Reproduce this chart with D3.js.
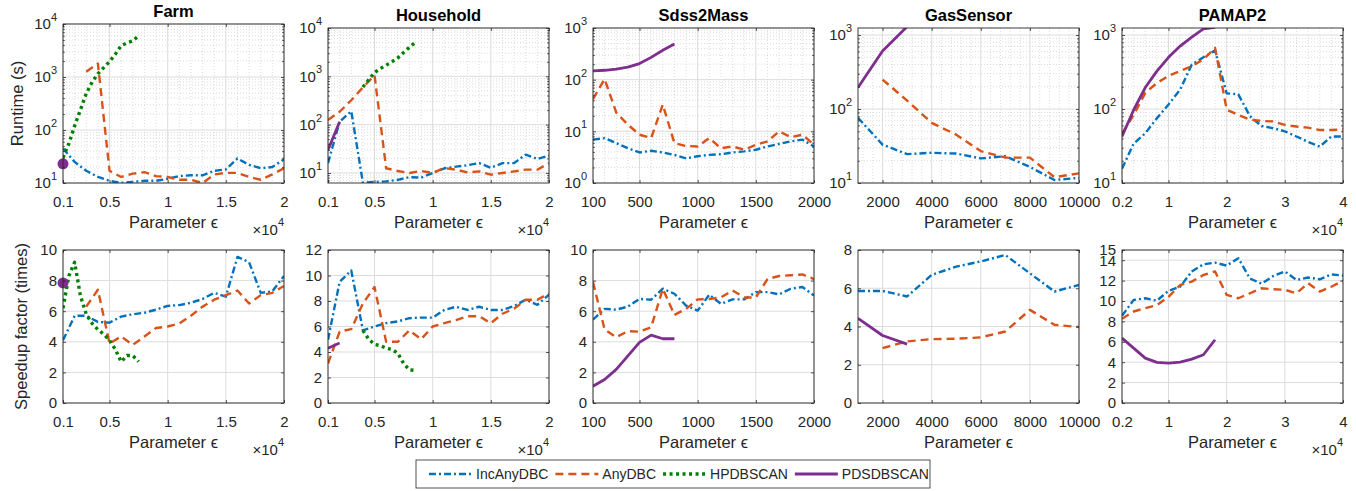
<!DOCTYPE html>
<html>
<head>
<meta charset="utf-8">
<script src="https://cdn.jsdelivr.net/npm/d3@7"></script>
<style>
  body { margin: 0; background: #fff; }
  svg text { font-family: "Liberation Sans", Arial, Helvetica, sans-serif; fill: #262626; }
</style>
</head>
<body>
<div id="chart"></div>
<script>

// ---- parameter values (x) ----
var eps_farm = [1000, 2000, 3000, 4000, 5000, 6000, 7000, 8000, 9000, 10000, 11000, 12000, 13000, 14000, 15000, 16000, 17000, 18000, 19000, 20000]
var eps_farm_any = [3000, 4000, 5000, 6000, 7000, 8000, 9000, 10000, 11000, 12000, 13000, 14000, 15000, 16000, 17000, 18000, 19000, 20000]
var eps_farm_hp = [1000, 1500, 2000, 2500, 3000, 3500, 4000, 4500, 5000, 5500, 6000, 6500, 7000, 7500]
var eps_farm_pd = [1000]
var eps_house = [1000, 2000, 3000, 4000, 5000, 6000, 7000, 8000, 9000, 10000, 11000, 12000, 13000, 14000, 15000, 16000, 17000, 18000, 19000, 20000]
var eps_house_hp = [4000, 4500, 5000, 5500, 6000, 6500, 7000, 7500, 8000, 8500]
var eps_house_pd = [1000, 2000]
var eps_sdss = [100, 200, 300, 400, 500, 600, 700, 800, 900, 1000, 1100, 1200, 1300, 1400, 1500, 1600, 1700, 1800, 1900, 2000]
var eps_sdss_pd = [100, 200, 300, 400, 500, 600, 700, 800]
var eps_gas = [1000, 2000, 3000, 4000, 5000, 6000, 7000, 8000, 9000, 10000]
var eps_gas_any = [2000, 3000, 4000, 5000, 6000, 7000, 8000, 9000, 10000]
var eps_gas_pd = [1000, 2000, 3000]
var eps_pamap = [2000, 4000, 6000, 8000, 10000, 12000, 14000, 16000, 18000, 20000, 22000, 24000, 26000, 28000, 30000, 32000, 34000, 36000, 38000, 40000]
var eps_pamap_pd = [2000, 4000, 6000, 8000, 10000, 12000, 14000, 16000, 18000]

// ---- runtime (s) ----
var farm_rt_inc = [45, 25, 17, 13, 11, 10, 10.5, 11, 11, 12, 13.5, 14, 14, 17, 18, 29, 22, 19, 20, 28]
var farm_rt_any = [1260, 1800, 17, 13, 15, 16, 13.5, 13, 11.5, 11.5, 10, 14.5, 15.5, 15.5, 13, 11.5, 14.5, 19]
var farm_rt_hp = [30, 55, 120, 240, 490, 800, 1150, 1500, 1950, 2700, 3900, 4400, 4800, 6000]
var farm_rt_pd = [23]
var house_rt_inc = [16, 115, 190, 6.3, 6.5, 6.7, 7.2, 8.2, 8.0, 10, 12.5, 13.5, 14.5, 16, 12.8, 16, 16, 24, 19.5, 23]
var house_rt_any = [125, 185, 320, 590, 1050, 12.5, 11, 10, 11, 10, 12.7, 11.7, 10.3, 10.8, 9.2, 10, 10.8, 11.7, 11.7, 16]
var house_rt_hp = [600, 850, 1200, 1450, 1700, 2000, 2400, 3100, 4000, 5000]
var house_rt_pd = [30, 115]
var sdss_rt_inc = [6.9, 7.4, 5.9, 4.7, 3.9, 4.2, 3.9, 3.5, 3.0, 3.3, 3.5, 3.6, 3.9, 4.1, 4.4, 5.1, 5.7, 6.4, 6.9, 5.1]
var sdss_rt_any = [42, 103, 23, 13.5, 8.6, 7.4, 33, 5.9, 5.2, 5.1, 7.4, 4.7, 5.1, 4.4, 5.5, 6.4, 10, 7.7, 8.6, 5.5]
var sdss_rt_pd = [148, 152, 160, 175, 205, 270, 370, 490]
var gas_rt_inc = [76, 33, 24.6, 25.6, 25, 21.5, 23, 16.5, 11, 11.7]
var gas_rt_any = [250, 130, 65, 45, 27, 22, 22, 12, 13.5]
var gas_rt_pd = [195, 610, 1300]
var pamap_rt_inc = [15.6, 34, 47, 75, 115, 183, 400, 500, 620, 163, 158, 80, 59, 55, 50, 42.5, 36, 31, 42.5, 42.5]
var pamap_rt_any = [47, 83, 165, 225, 280, 327, 380, 470, 670, 98, 83, 72, 69, 68, 61, 58, 56, 52, 52, 53]
var pamap_rt_pd = [42.5, 97, 195, 325, 500, 710, 940, 1210, 1270]

// ---- speedup factor (times) ----
var farm_sp_inc = [4.1, 5.7, 5.7, 5.3, 5.25, 5.65, 5.8, 5.9, 6.1, 6.35, 6.4, 6.55, 6.8, 7.2, 6.95, 9.55, 9.2, 7.2, 7.3, 8.3]
var farm_sp_any = [6.3, 7.4, 3.9, 4.35, 3.8, 4.35, 4.9, 5.0, 5.2, 5.7, 6.3, 6.75, 7.05, 7.35, 6.5, 7.05, 7.2, 7.65]
var farm_sp_hp = [6.2, 8.3, 9.2, 7.0, 5.8, 5.2, 4.8, 4.5, 4.1, 3.5, 2.7, 3.1, 3.1, 2.7]
var farm_sp_pd = [7.85]
var house_sp_inc = [4.96, 9.5, 10.4, 5.7, 6.0, 6.26, 6.4, 6.65, 6.7, 6.7, 7.3, 7.55, 7.3, 7.55, 7.3, 7.3, 7.6, 8.1, 7.7, 8.5]
var house_sp_any = [3.1, 5.6, 5.8, 7.8, 9.1, 4.8, 4.8, 5.7, 5.0, 6.0, 6.26, 6.5, 6.8, 6.8, 6.26, 7.0, 7.4, 8.1, 8.1, 8.6]
var house_sp_hp = [5.7, 5.0, 4.6, 4.5, 4.3, 4.2, 3.9, 3.1, 2.6, 2.55]
var house_sp_pd = [4.3, 4.7]
var sdss_sp_inc = [5.45, 6.15, 6.1, 6.3, 6.8, 6.75, 7.47, 7.14, 6.37, 6.04, 7.08, 6.48, 6.77, 6.77, 7.25, 7.25, 7.1, 7.47, 7.58, 7.03]
var sdss_sp_any = [7.9, 4.8, 4.3, 4.7, 4.66, 4.95, 7.47, 5.76, 6.15, 6.77, 6.8, 6.9, 7.36, 6.9, 6.9, 8.1, 8.3, 8.35, 8.4, 8.1]
var sdss_sp_pd = [1.1, 1.54, 2.2, 3.08, 3.96, 4.44, 4.2, 4.2]
var gas_sp_inc = [5.86, 5.86, 5.57, 6.7, 7.13, 7.4, 7.74, 6.78, 5.83, 6.17]
var gas_sp_any = [2.87, 3.22, 3.34, 3.36, 3.43, 3.74, 4.87, 4.09, 3.97]
var gas_sp_pd = [4.43, 3.53, 3.08]
var pamap_sp_inc = [8.55, 10.1, 10.27, 10.04, 11.0, 11.4, 12.9, 13.6, 13.76, 13.47, 14.2, 12.2, 11.7, 12.45, 12.9, 12.06, 12.3, 12.13, 12.6, 12.5]
var pamap_sp_any = [8.25, 8.97, 9.3, 9.6, 10.4, 11.57, 11.9, 12.55, 12.9, 10.6, 10.27, 10.76, 11.25, 11.15, 11.1, 10.76, 11.74, 10.92, 11.4, 12.0]
var pamap_sp_pd = [6.36, 5.38, 4.4, 3.98, 3.91, 4.0, 4.3, 4.73, 6.2]

// ---- tick values / labels ----
var ticks_e4_20k = [1000, 5000, 10000, 15000, 20000]
var labels_e4_20k = ['0.1', '0.5', '1', '1.5', '2']
var ticks_sdss = [100, 500, 1000, 1500, 2000]
var labels_sdss = ['100', '500', '1000', '1500', '2000']
var ticks_gas = [2000, 4000, 6000, 8000, 10000]
var labels_gas = ['2000', '4000', '6000', '8000', '10000']
var ticks_pamap = [2000, 10000, 20000, 30000, 40000]
var labels_pamap = ['0.2', '1', '2', '3', '4']
var sp_ticks_10 = [0, 2, 4, 6, 8, 10]
var sp_ticks_12 = [0, 2, 4, 6, 8, 10, 12]
var sp_ticks_8 = [0, 2, 4, 6, 8]
var sp_ticks_15 = [0, 2, 4, 6, 8, 10, 12, 14, 15]

var series_names = ['IncAnyDBC', 'AnyDBC', 'HPDBSCAN', 'PDSDBSCAN']
var series_colors = ['#0072BD', '#D95319', '#008000', '#7E2F8E']
var series_dash = ['7,3,2,3', '8,5', '3,3.5', null]
var series_width = [2.4, 2.4, 3.4, 2.8]

var datasets = [
  { title: 'Farm', x_domain: [1000, 20000], x_ticks: ticks_e4_20k, x_labels: labels_e4_20k, exp: true,
    eps: [eps_farm, eps_farm_any, eps_farm_hp, eps_farm_pd],
    runtime: [farm_rt_inc, farm_rt_any, farm_rt_hp, farm_rt_pd], rt_domain: [10, 1e4], rt_top: 24,
    speedup: [farm_sp_inc, farm_sp_any, farm_sp_hp, farm_sp_pd], sp_max: 10, sp_ticks: sp_ticks_10 },
  { title: 'Household', x_domain: [1000, 20000], x_ticks: ticks_e4_20k, x_labels: labels_e4_20k, exp: true,
    eps: [eps_house, eps_house, eps_house_hp, eps_house_pd],
    runtime: [house_rt_inc, house_rt_any, house_rt_hp, house_rt_pd], rt_domain: [6.2, 1e4], rt_top: 28,
    speedup: [house_sp_inc, house_sp_any, house_sp_hp, house_sp_pd], sp_max: 12, sp_ticks: sp_ticks_12 },
  { title: 'Sdss2Mass', x_domain: [100, 2000], x_ticks: ticks_sdss, x_labels: labels_sdss, exp: false,
    eps: [eps_sdss, eps_sdss, null, eps_sdss_pd],
    runtime: [sdss_rt_inc, sdss_rt_any, null, sdss_rt_pd], rt_domain: [1, 1e3], rt_top: 28,
    speedup: [sdss_sp_inc, sdss_sp_any, null, sdss_sp_pd], sp_max: 10, sp_ticks: sp_ticks_10 },
  { title: 'GasSensor', x_domain: [1000, 10000], x_ticks: ticks_gas, x_labels: labels_gas, exp: false,
    eps: [eps_gas, eps_gas_any, null, eps_gas_pd],
    runtime: [gas_rt_inc, gas_rt_any, null, gas_rt_pd], rt_domain: [10, 1245], rt_top: 28,
    speedup: [gas_sp_inc, gas_sp_any, null, gas_sp_pd], sp_max: 8, sp_ticks: sp_ticks_8 },
  { title: 'PAMAP2', x_domain: [2000, 40000], x_ticks: ticks_pamap, x_labels: labels_pamap, exp: true,
    eps: [eps_pamap, eps_pamap, null, eps_pamap_pd],
    runtime: [pamap_rt_inc, pamap_rt_any, null, pamap_rt_pd], rt_domain: [10, 1245], rt_top: 28,
    speedup: [pamap_sp_inc, pamap_sp_any, null, pamap_sp_pd], sp_max: 15, sp_ticks: sp_ticks_15 }
]

var width = 1356
var height = 491
var panel_left = [63, 328, 593, 858, 1122]
var panel_w = 221
var row_bottom = [183, 403]
var sp_top = 250

var svg = d3.select('#chart').append('svg')
  .attr('width', width)
  .attr('height', height)

svg.append('rect').attr('width', width).attr('height', height).attr('fill', '#fff')

function log_minor(domain) {
  var out = []
  var k0 = Math.floor(Math.log10(domain[0]))
  var k1 = Math.ceil(Math.log10(domain[1]))
  for (var k = k0; k <= k1; k++) {
    for (var m = 2; m <= 9; m++) {
      var v = m * Math.pow(10, k)
      if (v > domain[0] && v < domain[1]) out.push(v)
    }
  }
  return out
}

function log_major(domain) {
  var out = []
  for (var k = Math.ceil(Math.log10(domain[0]) - 1e-9); k <= Math.floor(Math.log10(domain[1]) + 1e-9); k++) {
    out.push(Math.pow(10, k))
  }
  return out
}

function style_axis(g) {
  g.attr('font-size', null).attr('font-family', null).attr('color', '#262626')
  g.select('.domain').remove()
  g.selectAll('.tick line').attr('stroke-width', 0.8)
}

function draw_panel(spec, col, row) {

  var x0 = panel_left[col]
  var bottom = row_bottom[row]
  var top = row === 0 ? spec.rt_top : sp_top
  var is_log = row === 0

  var x = d3.scaleLinear().domain(spec.x_domain).range([x0, x0 + panel_w])
  var y = is_log
    ? d3.scaleLog().domain(spec.rt_domain).range([bottom, top])
    : d3.scaleLinear().domain([0, spec.sp_max]).range([bottom, top])

  var y_ticks = is_log ? log_major(spec.rt_domain) : spec.sp_ticks
  var values = is_log ? spec.runtime : spec.speedup

  var g = svg.append('g')

  var clip_id = 'clip_' + row + '_' + col
  g.append('clipPath').attr('id', clip_id)
    .append('rect')
    .attr('x', x0).attr('y', top)
    .attr('width', panel_w).attr('height', bottom - top)

  // minor grid only on the log panels
  if (is_log) {
    var x_step = (spec.x_ticks[2] - spec.x_ticks[1]) / 5
    var x_minor = d3.range(Math.ceil(spec.x_domain[0] / x_step) * x_step, spec.x_domain[1], x_step)
      .filter(function(v) { return spec.x_ticks.indexOf(v) < 0 })
    g.selectAll('line.xminor').data(x_minor).enter().append('line')
      .attr('x1', function(d) { return x(d) }).attr('x2', function(d) { return x(d) })
      .attr('y1', top).attr('y2', bottom)
      .attr('stroke', '#c4c4c4').attr('stroke-width', 0.6).attr('stroke-dasharray', '1,2')
    g.selectAll('line.yminor').data(log_minor(spec.rt_domain)).enter().append('line')
      .attr('x1', x0).attr('x2', x0 + panel_w)
      .attr('y1', function(d) { return y(d) }).attr('y2', function(d) { return y(d) })
      .attr('stroke', '#c4c4c4').attr('stroke-width', 0.6).attr('stroke-dasharray', '1,2')
  }

  // major grid
  g.selectAll('line.xgrid').data(spec.x_ticks).enter().append('line')
    .attr('x1', function(d) { return x(d) }).attr('x2', function(d) { return x(d) })
    .attr('y1', top).attr('y2', bottom)
    .attr('stroke', '#dcdcdc').attr('stroke-width', 1)
  g.selectAll('line.ygrid').data(y_ticks).enter().append('line')
    .attr('x1', x0).attr('x2', x0 + panel_w)
    .attr('y1', function(d) { return y(d) }).attr('y2', function(d) { return y(d) })
    .attr('stroke', '#dcdcdc').attr('stroke-width', 1)

  // series
  var line = d3.line()
    .x(function(d) { return x(d[0]) })
    .y(function(d) { return y(d[1]) })

  var plot = g.append('g').attr('clip-path', 'url(#' + clip_id + ')')

  for (var i = 0; i < 4; i++) {
    if (!spec.eps[i]) continue
    var vs = values[i]
    var pts = spec.eps[i].map(function(e, j) { return [e, vs[j]] })
    if (pts.length === 1) {
      g.append('circle')
        .attr('cx', x(pts[0][0])).attr('cy', y(pts[0][1]))
        .attr('r', 5.5)
        .attr('fill', series_colors[i])
      continue
    }
    plot.append('path')
      .datum(pts)
      .attr('d', line)
      .attr('fill', 'none')
      .attr('stroke', series_colors[i])
      .attr('stroke-width', series_width[i])
      .attr('stroke-dasharray', series_dash[i])
      .attr('stroke-linejoin', 'round')
  }

  // axes, ticks inward on all four sides
  var ax_bottom = d3.axisBottom(x).tickValues(spec.x_ticks)
    .tickFormat(function(d, k) { return spec.x_labels[k] })
    .tickSizeInner(-3).tickSizeOuter(0).tickPadding(13)
  g.append('g').attr('transform', 'translate(0,' + bottom + ')').call(ax_bottom).call(style_axis)
    .selectAll('text').attr('font-size', 15)

  g.append('g').attr('transform', 'translate(0,' + top + ')')
    .call(d3.axisTop(x).tickValues(spec.x_ticks).tickFormat('').tickSizeInner(-3).tickSizeOuter(0))
    .call(style_axis)

  var ax_left = d3.axisLeft(y).tickValues(y_ticks)
    .tickFormat(function(d) { return is_log ? '' : d })
    .tickSizeInner(-3).tickSizeOuter(0).tickPadding(6)
  var gl = g.append('g').attr('transform', 'translate(' + x0 + ',0)').call(ax_left).call(style_axis)
  gl.selectAll('text').attr('font-size', 15)
  if (is_log) {
    gl.selectAll('.tick text').each(function(d) {
      var t = d3.select(this)
      t.append('tspan').text('10')
      t.append('tspan').attr('dy', '-0.75em').attr('font-size', 11).text(Math.round(Math.log10(d)))
    })
  }

  g.append('g').attr('transform', 'translate(' + (x0 + panel_w) + ',0)')
    .call(d3.axisRight(y).tickValues(y_ticks).tickFormat('').tickSizeInner(-3).tickSizeOuter(0))
    .call(style_axis)

  if (is_log) {
    var minors = log_minor(spec.rt_domain)
    g.append('g').attr('transform', 'translate(' + x0 + ',0)')
      .call(d3.axisLeft(y).tickValues(minors).tickFormat('').tickSizeInner(-1.8).tickSizeOuter(0))
      .call(style_axis)
    g.append('g').attr('transform', 'translate(' + (x0 + panel_w) + ',0)')
      .call(d3.axisRight(y).tickValues(minors).tickFormat('').tickSizeInner(-1.8).tickSizeOuter(0))
      .call(style_axis)
  }

  // box
  g.append('rect')
    .attr('x', x0).attr('y', top)
    .attr('width', panel_w).attr('height', bottom - top)
    .attr('fill', 'none')
    .attr('stroke', '#262626')
    .attr('stroke-width', 0.9)

  // labels
  if (row === 0) {
    g.append('text')
      .attr('x', x0 + panel_w / 2).attr('y', top - 7)
      .attr('text-anchor', 'middle')
      .attr('font-size', 16.5).attr('font-weight', 'bold')
      .style('fill', '#000')
      .text(spec.title)
  }

  g.append('text')
    .attr('x', x0 + panel_w / 2).attr('y', bottom + 45)
    .attr('text-anchor', 'middle')
    .attr('font-size', 16.5)
    .text('Parameter ϵ')

  if (spec.exp) {
    var ex = g.append('text')
      .attr('x', x0 + panel_w).attr('y', bottom + 52)
      .attr('text-anchor', 'end')
      .attr('font-size', 15)
    ex.append('tspan').text('×10')
    ex.append('tspan').attr('dy', '-0.85em').attr('font-size', 11).text('4')
  }

  if (col === 0) {
    svg.append('text')
      .attr('transform', 'translate(' + (row === 0 ? 23 : 27) + ',' + ((top + bottom) / 2) + ') rotate(-90)')
      .attr('text-anchor', 'middle')
      .attr('font-size', 16.5)
      .text(row === 0 ? 'Runtime (s)' : 'Speedup factor (times)')
  }
}

datasets.forEach(function(spec, col) {
  draw_panel(spec, col, 0)
  draw_panel(spec, col, 1)
})

// legend
var legend = svg.append('g')
legend.append('rect')
  .attr('x', 416).attr('y', 460)
  .attr('width', 514).attr('height', 28)
  .attr('fill', '#fff')
  .attr('stroke', '#262626')
  .attr('stroke-width', 0.8)

var lx = 429
series_names.forEach(function(name, i) {
  legend.append('line')
    .attr('x1', lx).attr('x2', lx + 43)
    .attr('y1', 474).attr('y2', 474)
    .attr('stroke', series_colors[i])
    .attr('stroke-width', series_width[i])
    .attr('stroke-dasharray', series_dash[i])
  var t = legend.append('text')
    .attr('x', lx + 47).attr('y', 479)
    .attr('font-size', 14)
    .text(name)
  lx += 47 + t.node().getComputedTextLength() + 7
})

</script>
</body>
</html>
